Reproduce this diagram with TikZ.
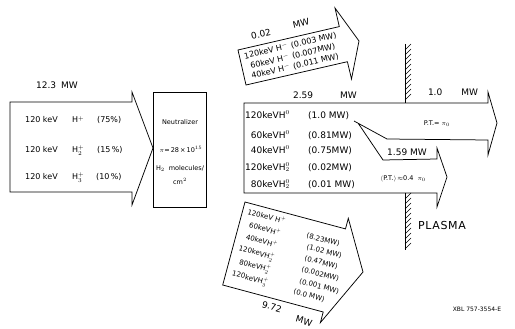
\documentclass[tikz,border=0pt]{standalone}
\usepackage{fontspec}
\setmainfont{DejaVu Sans}
\begin{document}
\begin{tikzpicture}[x=1pt,y=-1pt,
  outl/.style={draw=black, line width=0.75pt, line join=miter},
  f6/.style={inner sep=0pt, font=\fontsize{6}{7}\selectfont, text height=4.4pt, text depth=0pt},
  f65/.style={inner sep=0pt, font=\fontsize{6.5}{7.5}\selectfont, text height=4.7pt, text depth=0pt},
  f7/.style={inner sep=0pt, font=\fontsize{7}{8}\selectfont, text height=5.1pt, text depth=0pt},
  f8/.style={inner sep=0pt, font=\fontsize{8}{9}\selectfont, text height=5.8pt, text depth=0pt},
  f9/.style={inner sep=0pt, font=\fontsize{9}{10}\selectfont, text height=6.6pt, text depth=0pt},
  hatch/.style={line width=0.6pt}]
\useasboundingbox (0,0) rectangle (515,329);

% ---------- input beam arrow ----------
\draw[outl] (10,102) -- (132,102) -- (132,92) -- (153,148) -- (132,205) -- (132,192) -- (10,192) -- cycle;
\node[f9] (lin) at (57,85) {12.3\hspace{5pt}MW};
\node[f8,anchor=west] (a1) at (25,120) {120 keV};
\node[f8,anchor=west] (b1) at (72,120) {H$^+$};
\node[f8,anchor=west] (c1) at (97,120) {(75\%)};
\node[f8,anchor=west] (a2) at (25,150) {120 keV};
\node[f8,anchor=west] (b2) at (72,150) {H$_2^+$};
\node[f8,anchor=west] (c2) at (97,150) {(15\,\%)};
\node[f8,anchor=west] (a3) at (25,177) {120 keV};
\node[f8,anchor=west] (b3) at (72,177) {H$_3^+$};
\node[f8,anchor=west] (c3) at (96,177) {(10\,\%)};

% ---------- neutralizer ----------
\draw[outl] (153,92) rectangle (206,207);
\node[f65] (n1) at (180,122) {Neutralizer};
\node[f65] (n2) at (181,150) {$\pi$=\,28\,×\,10$^{15}$};
\node[f65] (n3) at (180,168) {H$_2$\hspace{4pt}molecules/};
\node[f65] (n4) at (180,182) {cm$^2$};

% ---------- neutral beam arrow with fork ----------
\draw[outl] (354,121) -- (387,139) -- (488,140) -- (488,155) -- (497,123) -- (488,92) -- (488,103)
  -- (244,103) -- (244,193) -- (437,193) -- (437,207) -- (447,177) -- (437,148) -- (437,159)
  -- (383,160) -- (358,123);
\node[f9] (l259) at (325,95) {2.59\hspace{27pt}MW};
\node[f9,anchor=east] (h1) at (290,115) {120keVH$^0$};
\node[f9,anchor=east] (h2) at (290,135) {60keVH$^0$};
\node[f9,anchor=east] (h3) at (290,150) {40keVH$^0$};
\node[f9,anchor=east] (h4) at (290,167) {120keVH$_2^0$};
\node[f9,anchor=east] (h5) at (290,184) {80keVH$_2^0$};
\node[f9,anchor=west] (p1) at (308,115) {(1.0 MW)};
\node[f9,anchor=west] (p2) at (308,135) {(0.81MW)};
\node[f9,anchor=west] (p3) at (308,150) {(0.75MW)};
\node[f9,anchor=west] (p4) at (308,167) {(0.02MW)};
\node[f9,anchor=west] (p5) at (308,184) {(0.01 MW)};
\node[f9] (l10) at (453,92) {1.0\hspace{19pt}MW};
\node[f65] (pt1) at (437,123) {P.T.= $\pi_0$};
\node[f9] (l159) at (407,152) {1.59 MW};
\node[f65] (pt2) at (403,178) {$\langle$P.T.$\rangle\!\approx$0.4\hspace{4pt}$\pi_0$};

% ---------- plasma wall ----------
\draw[outl] (405,44) -- (405,103);
\foreach \y in {50,55,...,100} \draw[hatch] (405,\y) -- ++(6,-6);
\draw[outl] (405,193) -- (405,250);
\foreach \y in {199,204,...,249} \draw[hatch] (405,\y) -- ++(6,-6);
\node[inner sep=0pt, font=\fontsize{11}{12}\selectfont\addfontfeature{LetterSpace=6}] (plasma) at (442,225) {PLASMA};

% ---------- H- arrow (upper, tilted) ----------
\draw[outl] (246,85) -- (238,50) -- (339.3,26.6) -- (335,8) -- (359,41) -- (351.5,79) -- (347.4,61.7) -- cycle;
\node[f9,rotate=13] (l002a) at (261,34) {0.02};
\node[f9,rotate=13] (l002b) at (301,23) {MW};
\node[f8,rotate=13] (m1) at (290.3,45.6) {120keV H$^-$\hspace{3pt}(0.003 MW)};
\node[f8,rotate=13] (m2) at (292.7,55.8) {60keV H$^-$\hspace{3pt}(0.007MW)};
\node[f8,rotate=13] (m3) at (295,66) {40keV H$^-$\hspace{3pt}(0.011 MW)};

% ---------- H+ arrow (lower, tilted) ----------
\draw[outl] (245,202) -- (345.5,228.9) -- (348.3,218.3) -- (363,272) -- (320.4,322.6) -- (323.2,312) -- (222.7,285) -- cycle;
\node[f7,rotate=-15,anchor=west] (q1) at (247.6,211.5) {120keV H$^+$};
\node[f7,rotate=-15,anchor=west] (q2) at (249.2,224.9) {60keVH$^+$};
\node[f7,rotate=-15,anchor=west] (q3) at (246,237) {40keVH$^+$};
\node[f7,rotate=-15,anchor=west] (q4) at (238.9,248) {120keVH$_2^+$};
\node[f7,rotate=-15,anchor=west] (q5) at (239.4,261.6) {80keVH$_2^+$};
\node[f7,rotate=-15,anchor=west] (q6) at (232.2,273.1) {120keVH$_3^+$};
\node[f7,rotate=-15,anchor=west] (r1) at (306.6,235.1) {(8.23MW)};
\node[f7,rotate=-15,anchor=west] (r2) at (306.6,246.5) {(1.02 MW)};
\node[f7,rotate=-15,anchor=west] (r3) at (304.6,257.8) {(0.47MW)};
\node[f7,rotate=-15,anchor=west] (r4) at (301.6,268.9) {(0.002MW)};
\node[f7,rotate=-15,anchor=west] (r5) at (299.4,280.8) {(0.001 MW)};
\node[f7,rotate=-15,anchor=west] (r6) at (293.6,291.1) {(0.0 MW)};
\node[f9,rotate=-16] (l972a) at (272,307) {9.72};
\node[f9,rotate=-16] (l972b) at (304,321) {MW};

% ---------- code ----------
\node[f6] (xbl) at (477,309) {XBL 757-3554-E};
\end{tikzpicture}
\end{document}
